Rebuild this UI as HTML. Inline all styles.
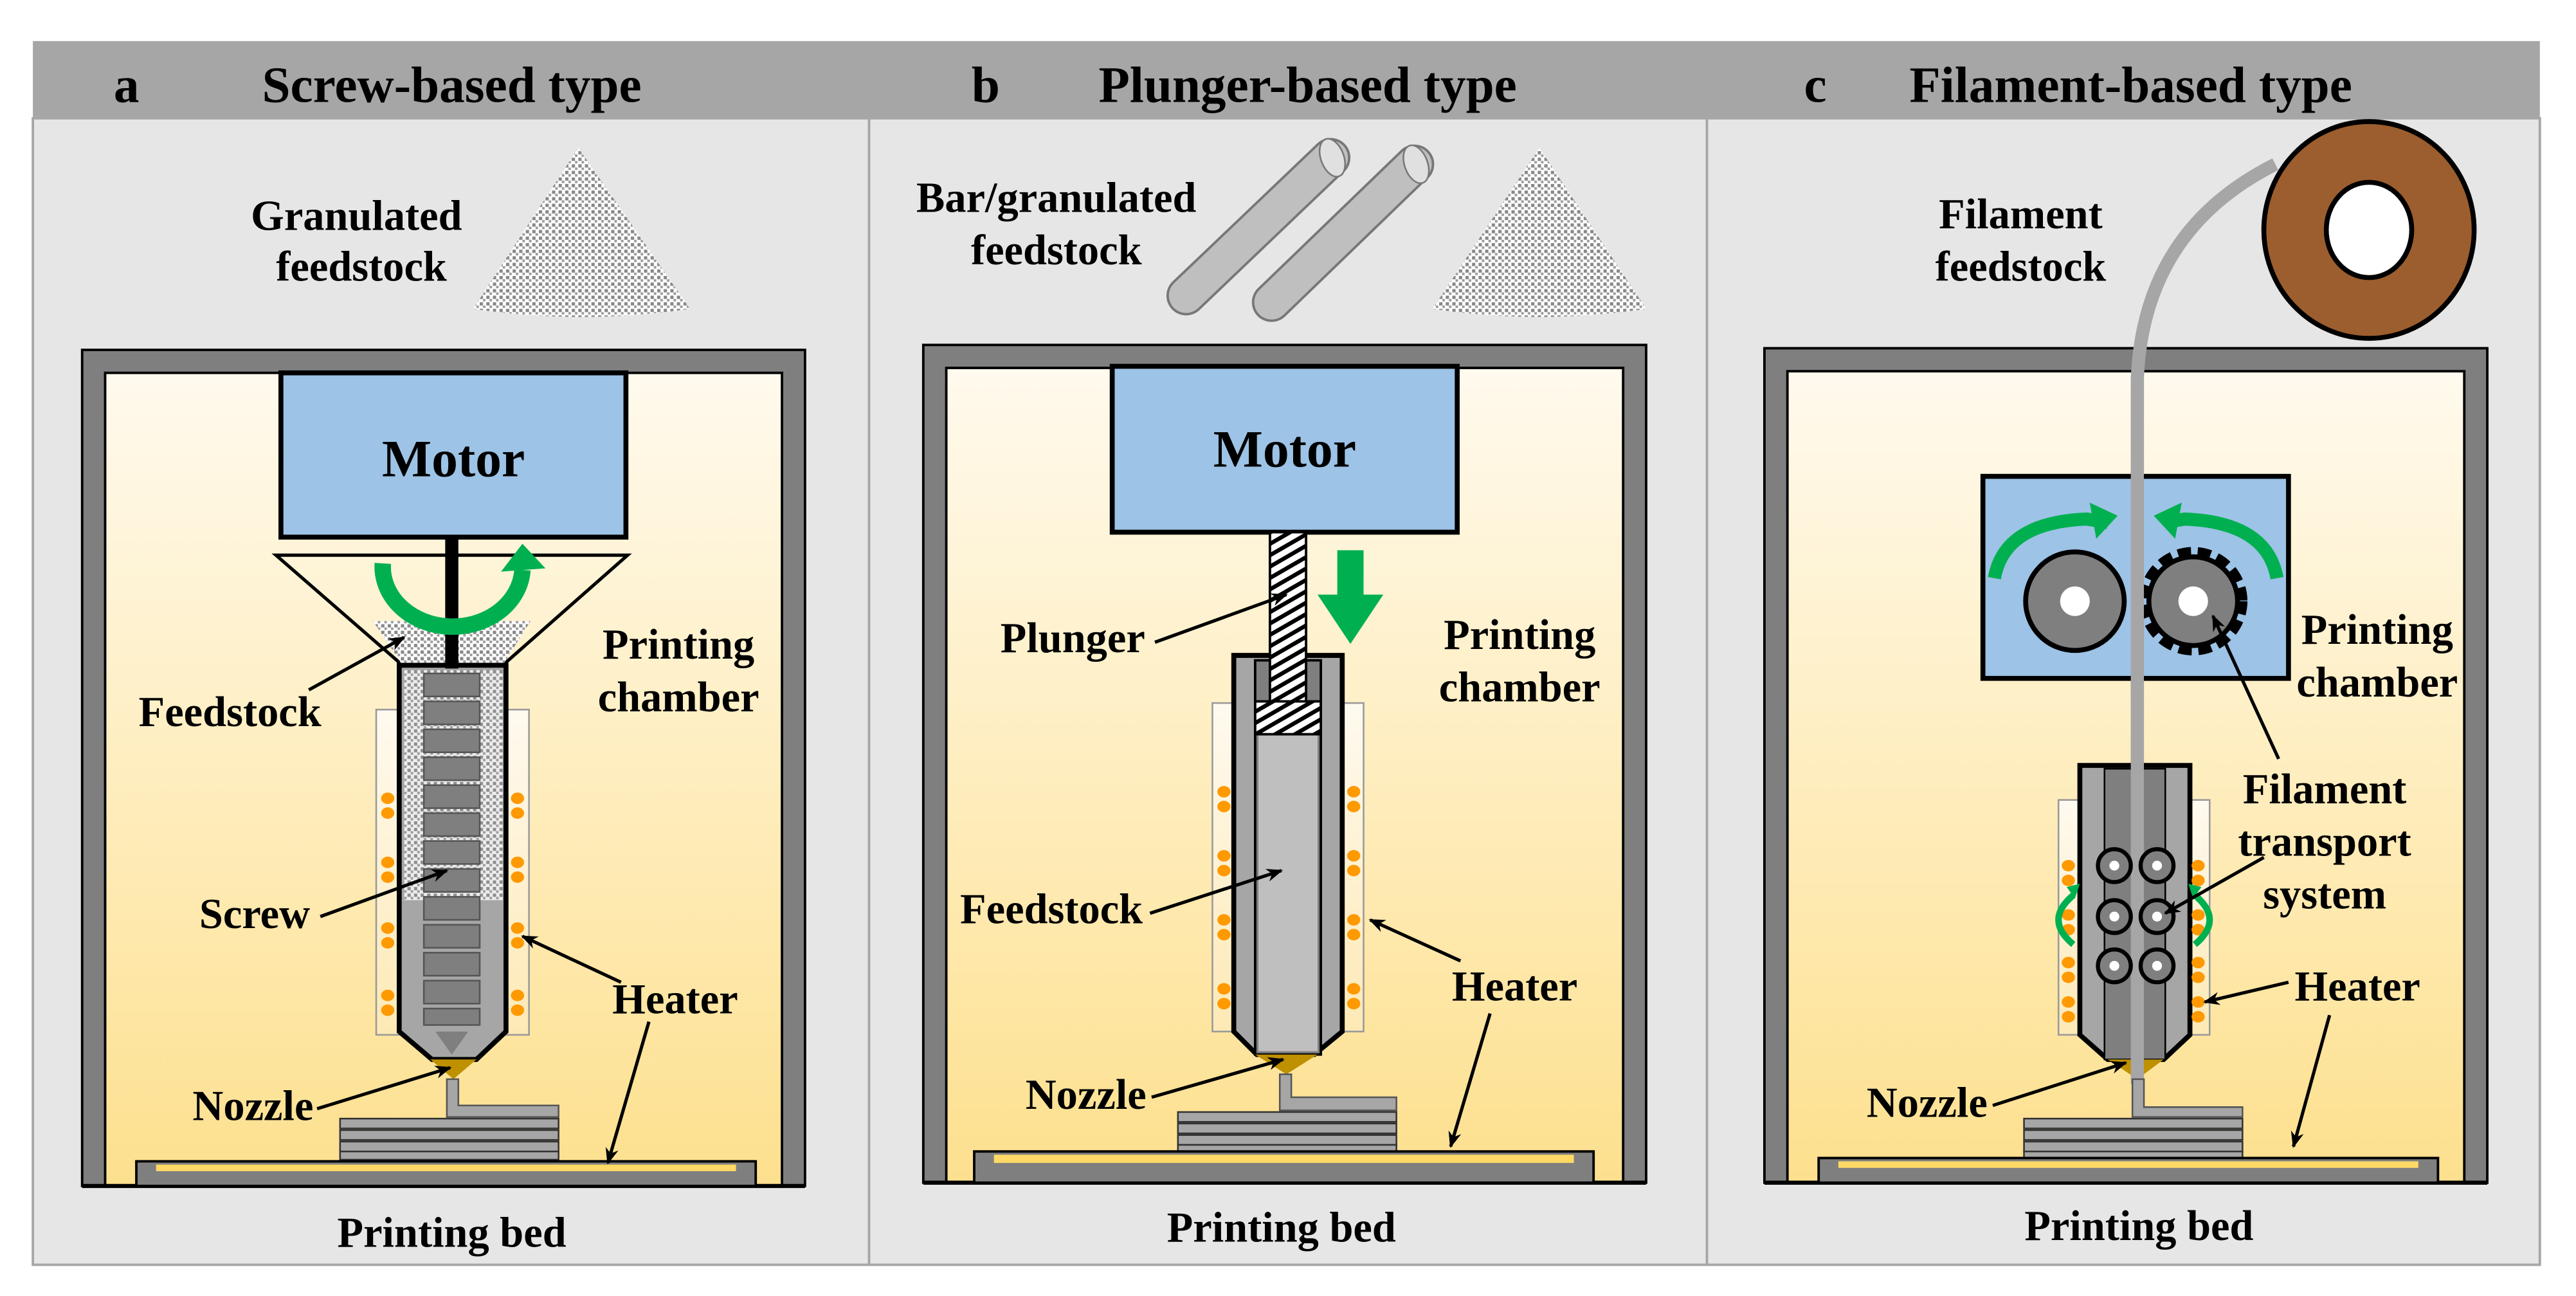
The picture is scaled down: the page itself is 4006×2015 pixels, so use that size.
<!DOCTYPE html>
<html><head><meta charset="utf-8"><style>
html,body{margin:0;padding:0;background:#fff;}
svg{display:block;}
text{font-family:"Liberation Serif",serif;font-weight:bold;fill:#000;}
</style></head><body>
<svg width="4006" height="2015" viewBox="0 0 1568 789" preserveAspectRatio="none" xmlns="http://www.w3.org/2000/svg">
<defs>
<linearGradient id="yel" x1="0" y1="0" x2="0" y2="1"><stop offset="0" stop-color="#fffaee"/><stop offset="1" stop-color="#fde08e"/></linearGradient>
<linearGradient id="sl" x1="0" y1="0" x2="0" y2="1"><stop offset="0" stop-color="#fffaf0"/><stop offset="1" stop-color="#fde9b5"/></linearGradient>
<pattern id="dots" width="4" height="4" patternUnits="userSpaceOnUse"><rect width="4" height="4" fill="#fff"/><rect x="0" y="0" width="2" height="2" fill="#888"/><rect x="2" y="2" width="1.5" height="1.5" fill="#999"/></pattern>
<pattern id="hatch" width="6" height="6" patternUnits="userSpaceOnUse" patternTransform="rotate(-30)"><rect width="6" height="6" fill="#fff"/><rect width="6" height="2.5" fill="#000"/></pattern>
<marker id="ah" markerWidth="10" markerHeight="8" refX="9" refY="4" orient="auto" markerUnits="userSpaceOnUse"><path d="M0,0 L10,4 L0,8 L3,4 Z" fill="#000"/></marker>
</defs>
<rect x="0" y="0" width="1568" height="789" fill="#fff"/>
<rect x="20" y="72" width="1526" height="698" fill="#e6e6e6" stroke="#a6a6a6" stroke-width="1.5"/>
<rect x="20" y="25" width="1526" height="47" fill="#a6a6a6"/>
<line x1="529" y1="72" x2="529" y2="770" stroke="#a6a6a6" stroke-width="1.5"/>
<line x1="1039" y1="72" x2="1039" y2="770" stroke="#a6a6a6" stroke-width="1.5"/>
<g font-size="31">
<text x="77" y="62" text-anchor="middle">a</text><text x="275" y="62" text-anchor="middle">Screw-based type</text>
<text x="600" y="62" text-anchor="middle">b</text><text x="796" y="62" text-anchor="middle">Plunger-based type</text>
<text x="1105" y="62" text-anchor="middle">c</text><text x="1297" y="62" text-anchor="middle">Filament-based type</text>
</g>

<!-- ================= PANEL A ================= -->
<g font-size="26">
<text x="217" y="140" text-anchor="middle">Granulated</text>
<text x="220" y="171" text-anchor="middle">feedstock</text>
</g>
<path d="M352,90 L288,188 Q354,198 420,188 Z" fill="url(#dots)"/>
<rect x="50" y="213" width="440" height="509" fill="#7f7f7f" stroke="#000" stroke-width="1.5"/>
<rect x="64" y="227" width="412" height="495" fill="url(#yel)" stroke="#000" stroke-width="1.5"/>
<line x1="50" y1="722" x2="490" y2="722" stroke="#000" stroke-width="2.5"/>
<rect x="171" y="227" width="210" height="100" fill="#9dc3e6" stroke="#000" stroke-width="3"/>
<text x="276" y="290" font-size="32" text-anchor="middle">Motor</text>
<path d="M168,338 L382,338 L306,405 L245,405 Z" fill="none" stroke="#000" stroke-width="2"/>
<path d="M227,378 L323,378 L306,405 L245,405 Z" fill="url(#dots)"/>
<rect x="229" y="432" width="14" height="198" fill="url(#sl)" stroke="#999" stroke-width="1"/>
<rect x="308" y="432" width="14" height="198" fill="url(#sl)" stroke="#999" stroke-width="1"/>
<path d="M243,405 L243,628 L263,645 L290,645 L308,628 L308,405 Z" fill="#a6a6a6" stroke="#000" stroke-width="3"/>
<rect x="246" y="408" width="60" height="140" fill="url(#dots)" opacity="0.8"/>
<g fill="#7f7f7f" stroke="#555" stroke-width="1">
<rect x="258" y="410" width="34" height="14"/><rect x="258" y="427" width="34" height="14"/><rect x="258" y="444" width="34" height="14"/><rect x="258" y="461" width="34" height="14"/><rect x="258" y="478" width="34" height="14"/><rect x="258" y="495" width="34" height="14"/><rect x="258" y="512" width="34" height="14"/><rect x="258" y="529" width="34" height="14"/><rect x="258" y="546" width="34" height="14"/><rect x="258" y="563" width="34" height="14"/><rect x="258" y="580" width="34" height="14"/><rect x="258" y="597" width="34" height="14"/><rect x="258" y="614" width="34" height="10"/>
</g>
<path d="M265,628 L285,628 L275,642 Z" fill="#7f7f7f"/>
<rect x="271" y="327" width="8" height="80" fill="#000"/>
<path d="M262,645 L290,645 L276,657 Z" fill="#bf9000"/>
<g fill="#ff9900">
<ellipse cx="236" cy="486" rx="4" ry="3.5"/><ellipse cx="236" cy="495" rx="4" ry="3.5"/><ellipse cx="236" cy="525" rx="4" ry="3.5"/><ellipse cx="236" cy="534" rx="4" ry="3.5"/><ellipse cx="236" cy="565" rx="4" ry="3.5"/><ellipse cx="236" cy="574" rx="4" ry="3.5"/><ellipse cx="236" cy="606" rx="4" ry="3.5"/><ellipse cx="236" cy="615" rx="4" ry="3.5"/>
<ellipse cx="315" cy="486" rx="4" ry="3.5"/><ellipse cx="315" cy="495" rx="4" ry="3.5"/><ellipse cx="315" cy="525" rx="4" ry="3.5"/><ellipse cx="315" cy="534" rx="4" ry="3.5"/><ellipse cx="315" cy="565" rx="4" ry="3.5"/><ellipse cx="315" cy="574" rx="4" ry="3.5"/><ellipse cx="315" cy="606" rx="4" ry="3.5"/><ellipse cx="315" cy="615" rx="4" ry="3.5"/>
</g>
<path d="M272,657 L272,680 L340,680 L340,673 L279,673 L279,657 Z" fill="#a6a6a6" stroke="#555" stroke-width="1"/>
<g fill="#a6a6a6" stroke="#333" stroke-width="1"><rect x="207" y="681" width="133" height="6"/><rect x="207" y="688" width="133" height="6"/><rect x="207" y="695" width="133" height="6"/><rect x="207" y="701" width="133" height="5"/></g>
<rect x="83" y="707" width="377" height="15" fill="#7f7f7f" stroke="#000" stroke-width="1.5"/>
<rect x="95" y="709" width="353" height="4" fill="#ffd966"/>
<path d="M233,343 A42,36 0 0 0 318,347" fill="none" stroke="#00b050" stroke-width="10"/>
<path d="M305,348 L318,331 L332,346 Z" fill="#00b050"/>
<g font-size="26">
<text x="413" y="401" text-anchor="middle">Printing</text><text x="413" y="433" text-anchor="middle">chamber</text>
<text x="140" y="442" text-anchor="middle">Feedstock</text>
<text x="155" y="565" text-anchor="middle">Screw</text>
<text x="411" y="617" text-anchor="middle">Heater</text>
<text x="154" y="682" text-anchor="middle">Nozzle</text>
<text x="275" y="759" text-anchor="middle">Printing bed</text>
</g>
<g stroke="#000" stroke-width="2" fill="none" marker-end="url(#ah)">
<line x1="188" y1="420" x2="246" y2="388"/>
<line x1="195" y1="558" x2="272" y2="530"/>
<line x1="378" y1="598" x2="318" y2="570"/>
<line x1="395" y1="622" x2="370" y2="708"/>
<line x1="193" y1="675" x2="274" y2="650"/>
</g>

<!-- ================= PANEL B ================= -->
<g font-size="26">
<text x="643" y="129" text-anchor="middle">Bar/granulated</text>
<text x="643" y="161" text-anchor="middle">feedstock</text>
</g>
<g stroke-linecap="round">
<line x1="722" y1="180" x2="810" y2="96" stroke="#777" stroke-width="24"/>
<line x1="722" y1="180" x2="810" y2="96" stroke="#bfbfbf" stroke-width="21"/>
<line x1="774" y1="184" x2="861" y2="100" stroke="#777" stroke-width="24"/>
<line x1="774" y1="184" x2="861" y2="100" stroke="#bfbfbf" stroke-width="21"/>
</g>
<ellipse cx="811" cy="96" rx="7" ry="12" transform="rotate(-20 811 96)" fill="#e0e0e0" stroke="#777" stroke-width="1"/>
<ellipse cx="862" cy="100" rx="7" ry="12" transform="rotate(-20 862 100)" fill="#e0e0e0" stroke="#777" stroke-width="1"/>
<path d="M937,90 L872,188 Q937,198 1002,188 Z" fill="url(#dots)"/>
<rect x="562" y="210" width="440" height="510" fill="#7f7f7f" stroke="#000" stroke-width="1.5"/>
<rect x="576" y="224" width="412" height="496" fill="url(#yel)" stroke="#000" stroke-width="1.5"/>
<line x1="562" y1="720" x2="1002" y2="720" stroke="#000" stroke-width="2.5"/>
<rect x="677" y="223" width="210" height="101" fill="#9dc3e6" stroke="#000" stroke-width="3"/>
<text x="782" y="284" font-size="32" text-anchor="middle">Motor</text>
<rect x="738" y="428" width="14" height="200" fill="url(#sl)" stroke="#999" stroke-width="1"/>
<rect x="816" y="428" width="14" height="200" fill="url(#sl)" stroke="#999" stroke-width="1"/>
<path d="M751,399 L751,628 L765,642 L800,642 L817,628 L817,399 Z" fill="#a6a6a6" stroke="#000" stroke-width="3"/>
<rect x="764" y="402" width="40" height="240" fill="#7f7f7f" stroke="#000" stroke-width="1.5"/>
<rect x="766" y="447" width="36" height="193" fill="#bfbfbf"/>
<rect x="773" y="324" width="22" height="104" fill="url(#hatch)" stroke="#000" stroke-width="1.5"/>
<rect x="764" y="427" width="40" height="20" fill="url(#hatch)" stroke="#000" stroke-width="1.5"/>
<path d="M764,642 L802,642 L783,654 Z" fill="#bf9000"/>
<g fill="#ff9900">
<ellipse cx="745" cy="482" rx="4" ry="3.5"/><ellipse cx="745" cy="491" rx="4" ry="3.5"/><ellipse cx="745" cy="521" rx="4" ry="3.5"/><ellipse cx="745" cy="530" rx="4" ry="3.5"/><ellipse cx="745" cy="560" rx="4" ry="3.5"/><ellipse cx="745" cy="569" rx="4" ry="3.5"/><ellipse cx="745" cy="602" rx="4" ry="3.5"/><ellipse cx="745" cy="611" rx="4" ry="3.5"/>
<ellipse cx="824" cy="482" rx="4" ry="3.5"/><ellipse cx="824" cy="491" rx="4" ry="3.5"/><ellipse cx="824" cy="521" rx="4" ry="3.5"/><ellipse cx="824" cy="530" rx="4" ry="3.5"/><ellipse cx="824" cy="560" rx="4" ry="3.5"/><ellipse cx="824" cy="569" rx="4" ry="3.5"/><ellipse cx="824" cy="602" rx="4" ry="3.5"/><ellipse cx="824" cy="611" rx="4" ry="3.5"/>
</g>
<path d="M779,654 L779,676 L850,676 L850,668 L786,668 L786,654 Z" fill="#a6a6a6" stroke="#555" stroke-width="1"/>
<g fill="#a6a6a6" stroke="#333" stroke-width="1"><rect x="717" y="677" width="133" height="6"/><rect x="717" y="684" width="133" height="6"/><rect x="717" y="691" width="133" height="6"/><rect x="717" y="697" width="133" height="4"/></g>
<rect x="593" y="701" width="377" height="19" fill="#7f7f7f" stroke="#000" stroke-width="1.5"/>
<rect x="605" y="703" width="353" height="5" fill="#ffd966"/>
<path d="M814,335 L830,335 L830,362 L842,362 L822,392 L802,362 L814,362 Z" fill="#00b050"/>
<g font-size="26">
<text x="653" y="397" text-anchor="middle">Plunger</text>
<text x="925" y="395" text-anchor="middle">Printing</text><text x="925" y="427" text-anchor="middle">chamber</text>
<text x="640" y="562" text-anchor="middle">Feedstock</text>
<text x="922" y="609" text-anchor="middle">Heater</text>
<text x="661" y="675" text-anchor="middle">Nozzle</text>
<text x="780" y="756" text-anchor="middle">Printing bed</text>
</g>
<g stroke="#000" stroke-width="2" fill="none" marker-end="url(#ah)">
<line x1="703" y1="391" x2="783" y2="362"/>
<line x1="700" y1="556" x2="780" y2="530"/>
<line x1="889" y1="585" x2="834" y2="560"/>
<line x1="907" y1="617" x2="883" y2="698"/>
<line x1="701" y1="668" x2="781" y2="645"/>
</g>

<!-- ================= PANEL C ================= -->
<g font-size="26">
<text x="1230" y="139" text-anchor="middle">Filament</text>
<text x="1230" y="171" text-anchor="middle">feedstock</text>
</g>
<rect x="1074" y="212" width="440" height="508" fill="#7f7f7f" stroke="#000" stroke-width="1.5"/>
<rect x="1088" y="226" width="412" height="494" fill="url(#yel)" stroke="#000" stroke-width="1.5"/>
<line x1="1074" y1="720" x2="1514" y2="720" stroke="#000" stroke-width="2.5"/>
<path d="M1385,100 Q1305,140 1301,230 L1301,655" fill="none" stroke="#a6a6a6" stroke-width="8"/>
<ellipse cx="1442" cy="140" rx="64" ry="66" fill="#9c5e2e" stroke="#000" stroke-width="3"/>
<ellipse cx="1442" cy="140" rx="26" ry="29" fill="#fff" stroke="#000" stroke-width="3"/>
<rect x="1207" y="290" width="186" height="123" fill="#9dc3e6" stroke="#000" stroke-width="3"/>
<circle cx="1263" cy="366" r="30" fill="#7f7f7f" stroke="#000" stroke-width="3"/>
<circle cx="1263" cy="366" r="9" fill="#fff"/>
<circle cx="1335" cy="366" r="30" fill="none" stroke="#000" stroke-width="6" stroke-dasharray="8 4"/>
<circle cx="1335" cy="366" r="27" fill="#7f7f7f" stroke="#000" stroke-width="3"/>
<circle cx="1335" cy="366" r="9" fill="#fff"/>
<path d="M1214,352 Q1220,318 1270,316 L1283,318" fill="none" stroke="#00b050" stroke-width="8"/>
<path d="M1272,306 L1289,314 L1276,328 Z" fill="#00b050"/>
<path d="M1386,352 Q1380,318 1330,316 L1318,318" fill="none" stroke="#00b050" stroke-width="8"/>
<path d="M1328,306 L1311,314 L1324,328 Z" fill="#00b050"/>
<rect x="1253" y="487" width="14" height="143" fill="url(#sl)" stroke="#999" stroke-width="1"/>
<rect x="1331" y="487" width="14" height="143" fill="url(#sl)" stroke="#999" stroke-width="1"/>
<path d="M1266,466 L1266,630 L1283,645 L1317,645 L1333,630 L1333,466 Z" fill="#a6a6a6" stroke="#000" stroke-width="3"/>
<rect x="1281" y="468" width="37" height="177" fill="#7f7f7f" stroke="#000" stroke-width="1"/>
<path d="M1283,645 L1317,645 L1301,657 Z" fill="#bf9000"/>
<rect x="1297" y="230" width="8" height="430" fill="#a6a6a6"/>
<g fill="#7f7f7f" stroke="#000" stroke-width="2.5">
<circle cx="1287" cy="527" r="10"/><circle cx="1313" cy="527" r="10"/><circle cx="1287" cy="558" r="10"/><circle cx="1313" cy="558" r="10"/><circle cx="1287" cy="588" r="10"/><circle cx="1313" cy="588" r="10"/>
</g>
<g fill="#fff"><circle cx="1287" cy="527" r="3"/><circle cx="1313" cy="527" r="3"/><circle cx="1287" cy="558" r="3"/><circle cx="1313" cy="558" r="3"/><circle cx="1287" cy="588" r="3"/><circle cx="1313" cy="588" r="3"/></g>
<g fill="#ff9900">
<ellipse cx="1259" cy="527" rx="4" ry="3.5"/><ellipse cx="1259" cy="536" rx="4" ry="3.5"/><ellipse cx="1259" cy="557" rx="4" ry="3.5"/><ellipse cx="1259" cy="566" rx="4" ry="3.5"/><ellipse cx="1259" cy="586" rx="4" ry="3.5"/><ellipse cx="1259" cy="595" rx="4" ry="3.5"/><ellipse cx="1259" cy="610" rx="4" ry="3.5"/><ellipse cx="1259" cy="619" rx="4" ry="3.5"/>
<ellipse cx="1338" cy="527" rx="4" ry="3.5"/><ellipse cx="1338" cy="536" rx="4" ry="3.5"/><ellipse cx="1338" cy="557" rx="4" ry="3.5"/><ellipse cx="1338" cy="566" rx="4" ry="3.5"/><ellipse cx="1338" cy="586" rx="4" ry="3.5"/><ellipse cx="1338" cy="595" rx="4" ry="3.5"/><ellipse cx="1338" cy="610" rx="4" ry="3.5"/><ellipse cx="1338" cy="619" rx="4" ry="3.5"/>
</g>
<path d="M1262,545 Q1244,560 1262,575" fill="none" stroke="#00b050" stroke-width="4"/>
<path d="M1258,540 L1266,538 L1263,547 Z" fill="#00b050"/>
<path d="M1336,545 Q1354,560 1336,575" fill="none" stroke="#00b050" stroke-width="4"/>
<path d="M1340,540 L1332,538 L1335,547 Z" fill="#00b050"/>
<path d="M1298,657 L1298,680 L1365,680 L1365,674 L1305,674 L1305,657 Z" fill="#a6a6a6" stroke="#555" stroke-width="1"/>
<g fill="#a6a6a6" stroke="#333" stroke-width="1"><rect x="1232" y="681" width="133" height="6"/><rect x="1232" y="688" width="133" height="6"/><rect x="1232" y="695" width="133" height="6"/><rect x="1232" y="701" width="133" height="4"/></g>
<rect x="1107" y="705" width="377" height="15" fill="#7f7f7f" stroke="#000" stroke-width="1.5"/>
<rect x="1119" y="707" width="353" height="4" fill="#ffd966"/>
<g font-size="26">
<text x="1447" y="392" text-anchor="middle">Printing</text><text x="1447" y="424" text-anchor="middle">chamber</text>
<text x="1415" y="489" text-anchor="middle">Filament</text><text x="1415" y="521" text-anchor="middle">transport</text><text x="1415" y="553" text-anchor="middle">system</text>
<text x="1435" y="609" text-anchor="middle">Heater</text>
<text x="1173" y="680" text-anchor="middle">Nozzle</text>
<text x="1302" y="755" text-anchor="middle">Printing bed</text>
</g>
<g stroke="#000" stroke-width="2" fill="none" marker-end="url(#ah)">
<line x1="1387" y1="462" x2="1347" y2="375"/>
<line x1="1378" y1="522" x2="1318" y2="556"/>
<line x1="1393" y1="598" x2="1342" y2="610"/>
<line x1="1418" y1="618" x2="1396" y2="698"/>
<line x1="1213" y1="673" x2="1294" y2="647"/>
</g>
</svg>
</body></html>
